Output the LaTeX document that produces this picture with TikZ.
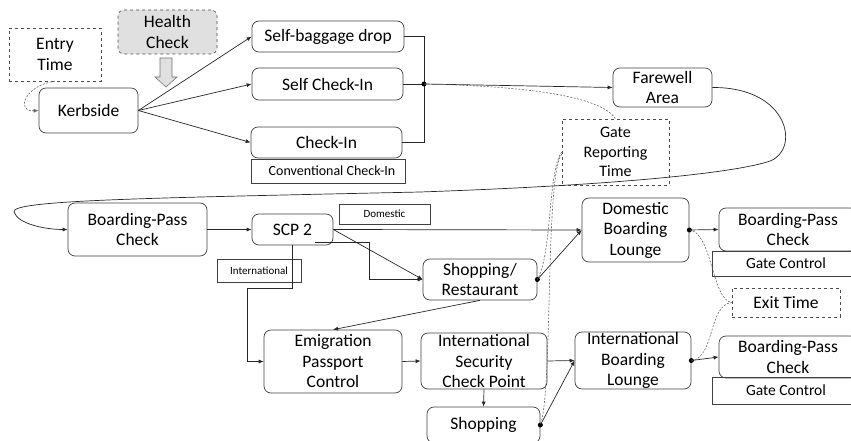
\documentclass[tikz,border=0pt]{standalone}
\usepackage{fontspec}
\setmainfont{Carlito}
\usetikzlibrary{arrows.meta,calc}
\newcommand\mainfs{\fontsize{17.5}{20.5}\selectfont}
\newcommand\grtfs{\fontsize{16}{19.5}\selectfont}
\newcommand\gcfs{\fontsize{15.5}{18}\selectfont}
\newcommand\ccfs{\fontsize{14}{16}\selectfont}
\newcommand\lblfs{\fontsize{11}{13}\selectfont}
\begin{document}
\begin{tikzpicture}[x=1pt,y=-1pt,
  every node/.style={inner sep=0pt, align=center, font=\mainfs, text=black},
  wh/.style 2 args={minimum width=#1pt, minimum height=#2pt},
  box/.style={draw=black!75, line width=0.7pt, rounded corners=7pt},
  rbox/.style={draw=black!75, line width=0.7pt},
  dbox/.style={draw=black!70, line width=0.6pt, dashed},
  conn/.style={draw=black!85, line width=0.7pt},
  arr/.style={conn, -{Latex[length=5pt,width=4pt]}},
  dconn/.style={draw=black!60, line width=0.6pt, dash pattern=on 2pt off 1.5pt},
  dconnarr/.style={dconn, -{Latex[length=5pt,width=4pt]}}
]
\useasboundingbox (0,0) rectangle (851,441);

% top part
\node[dbox, wh={92}{53}] (entry) at (55,54.5) {Entry\\Time};
\node[dbox, rounded corners=6pt, fill=black!12, wh={99}{44}] (health) at (167.5,32) {Health\\Check};
\node[box, wh={99}{45}] (kerb) at (88.5,110.5) {Kerbside};
\node[box, wh={152}{31}] (sbd) at (328,36.5) {Self-baggage drop};
\node[box, wh={151}{32}] (sci) at (327.5,84) {Self Check-In};
\node[box, wh={151}{31}] (ci) at (326.5,142.5) {Check-In};
\node[rbox, wh={154}{24}, font=\ccfs] (cci) at (328,171) {\hspace*{8pt}Conventional Check-In};
\node[box, wh={99}{39}] (fare) at (662.5,87.5) {Farewell\\Area};
\node[dbox, wh={107}{66}, font=\grtfs] (grt) at (615.5,152) {Gate\\Reporting\\Time};

% middle / bottom
\node[box, wh={139}{53}] (bpc1) at (137.5,229.5) {Boarding-Pass\\Check};
\node[box, wh={81}{31}] (scp) at (292.5,229.5) {SCP 2};
\node[rbox, wh={91}{20}, font=\lblfs] (domlbl) at (384.5,214) {Domestic};
\node[rbox, wh={84}{23}, font=\lblfs] (intlbl) at (259,270.5) {International};
\node[box, wh={114}{41}] (sr) at (480,279.5) {Shopping/\\Restaurant};
\node[box, wh={107}{64}] (dbl) at (635.5,230) {Domestic\\Boarding\\Lounge};
\node[rbox, wh={148}{25}, font=\gcfs] (gc1) at (786,263.5) {Gate Control};
\node[box, wh={138}{43}] (bpc2) at (788,229.5) {Boarding-Pass\\Check};
\node[dbox, wh={108}{29}] (exit) at (786,302.5) {Exit Time};
\node[box, wh={138}{63}] (emig) at (333,361.5) {Emigration\\Passport\\Control};
\node[box, wh={126}{56}] (iscp) at (484,361) {International\\Security\\Check Point};
\node[box, wh={113}{36}] (shop) at (483.5,425) {Shopping};
\node[box, wh={116}{57}] (ibl) at (633,360.5) {International\\Boarding\\Lounge};
\node[rbox, wh={148}{27}, font=\gcfs] (gc2) at (786,390.5) {Gate Control};
\node[box, wh={138}{42}] (bpc3) at (788,357) {Boarding-Pass\\Check};

% health check hollow arrow
\draw[fill=black!12, draw=black!55, line width=0.6pt]
  (160,58) -- (172,58) -- (172,77) -- (177,77) -- (166,87) -- (155,77) -- (160,77) -- cycle;

% entry time
\draw[dconnarr] (entry.south) .. controls (25,85) and (15,112) .. (kerb.west);

% kerbside fan
\draw[arr] (kerb.east) -- (sbd.west);
\draw[arr] (kerb.east) -- (sci.west);
\draw[arr] (kerb.east) -- (ci.west);

% bracket
\coordinate (J) at (424,84);
\draw[conn] (sbd.east) -| (J);
\draw[conn] (ci.east) -| (J);
\draw[conn] (sci.east) -- (J);
\fill (J) circle (2.5pt);
\draw[arr] (J) -- (fare.west);
\draw[dconn] (J) .. controls (520,86) and (600,95) .. (grt.north);

% long loop from Farewell to boarding pass check
\draw[arr] (fare.east) .. controls (790,87) and (800,150) .. (770,161)
  .. controls (745,170) and (650,184) .. (420,192)
  .. controls (150,198) and (10,200) .. (14,212)
  .. controls (18,224) and (45,229.5) .. (bpc1.west);

% SCP 2
\draw[arr] (bpc1.east) -- (scp.west);
\draw[arr] (scp.east) -- (dbl.west);
\draw[arr] (scp.east) -- (sr.west);
\draw[arr] ($(scp.south)+(22.5,-3)$) -- ++(54,0) |- (sr.west);
\draw[arr] (scp.south) -- ++(0,43) -- ++(-45.5,0) |- (emig.west);

% shopping/restaurant
\draw[arr] (sr.south) -- (emig.north);
\draw[arr] (sr.east) -- (dbl.west);
\fill (sr.east) circle (2.5pt);

% international chain
\draw[arr] (emig.east) -- (iscp.west);
\draw[arr] (iscp.east) -- (ibl.west);
\draw[arr] (iscp.south) -- (shop.north);
\draw[arr] (shop.east) -- (ibl.west);
\fill (shop.east) circle (2.5pt);

% lounges to gates
\draw[arr] (dbl.east) -- (bpc2.west);
\fill (dbl.east) circle (2.5pt);
\draw[arr] (ibl.east) -- (bpc3.west);
\fill (ibl.east) circle (2.5pt);

% exit time
\draw[dconn] (dbl.east) .. controls (712,232) and (712,300) .. (exit.west);
\draw[dconn] (ibl.east) .. controls (715,358) and (708,305) .. (exit.west);

% gate reporting time
\draw[dconn] ($(grt.west)+(0,0)$) .. controls (548,170) and (552,255) .. (sr.east);
\draw[dconn] ($(grt.west)+(0,2)$) .. controls (545,175) and (553,390) .. (shop.east);
\end{tikzpicture}
\end{document}
